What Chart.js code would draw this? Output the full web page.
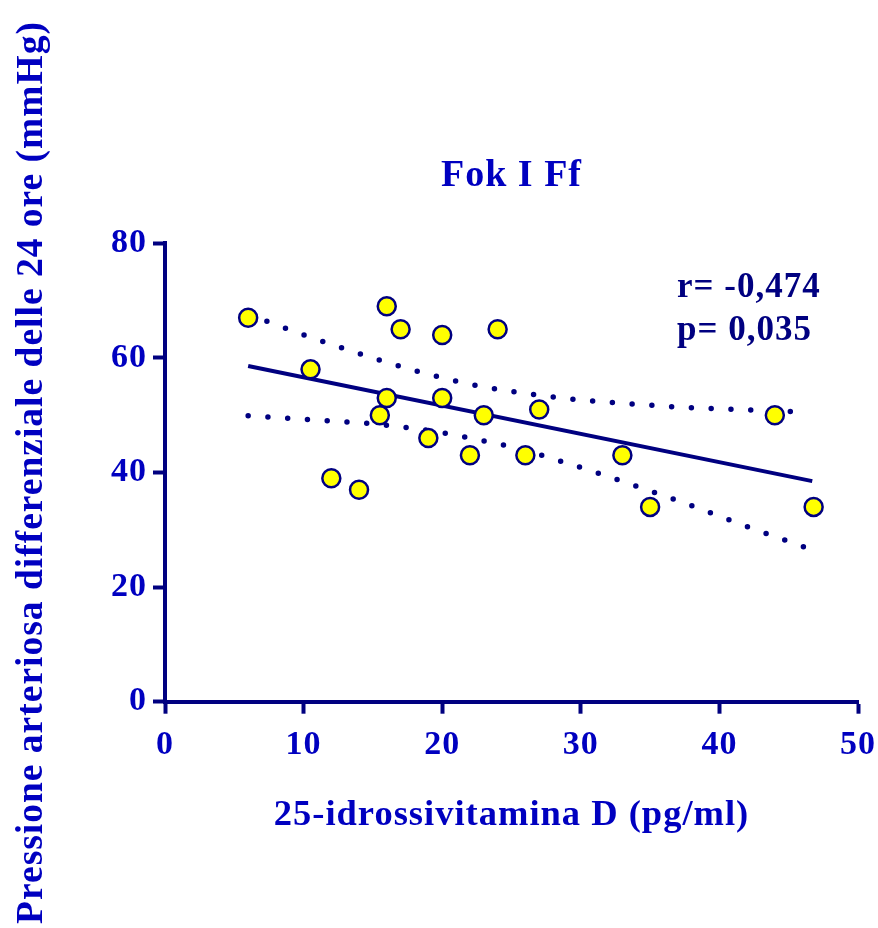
<!DOCTYPE html>
<html>
<head>
<meta charset="utf-8">
<script src="https://cdn.jsdelivr.net/npm/chart.js@4.4.1/dist/chart.umd.min.js"></script>
<style>
  body { margin: 0; background: #ffffff; }
</style>
</head>
<body>
<canvas id="grafico" width="878" height="928"></canvas>
<script>
// valori (Fok I Ff)
const vitD = [6, 16, 17, 20, 24, 10.5, 16, 20, 15.5, 23, 27, 19, 22, 26, 12, 14, 44, 35, 46.8, 33];
const pressione = [67, 69, 65, 64, 65, 58, 53, 53, 50, 50, 51, 46, 43, 43, 39, 37, 50, 34, 34, 43];

// retta di regressione
const rettaX = [6, 46.7];
const rettaY = [58.6, 38.5];

// bande di confidenza (tratteggiate)
const bandaSupX = [6, 7.45, 10.24, 13.07, 15.91, 18.77, 21.65, 24.61, 29.03, 33.5, 37.97, 42.4, 45.5];
const bandaSupY = [67.5, 66.3, 63.8, 61.5, 59.3, 57.3, 55.6, 54.3, 52.9, 52.0, 51.3, 50.9, 50.6];
const bandaInfX = [6, 10.5, 14.95, 19.37, 23.8, 25.26, 29.51, 33.77, 38.0, 42.18, 46.7];
const bandaInfY = [49.9, 49.2, 48.5, 47.2, 45.1, 44.3, 41.25, 37.8, 34.2, 30.4, 26.5];

const tickX = [0, 10, 20, 30, 40, 50];
const tickY = [0, 20, 40, 60, 80];

const titolo = "Fok I Ff";
const titoloX = "25-idrossivitamina D (pg/ml)";
const titoloY = "Pressione arteriosa differenziale delle 24 ore (mmHg)";
const statistiche = ["r= -0,474", "p= 0,035"];

const BLU = "#0000c0";
const NAVY = "#000080";
const FONT = "'Liberation Serif', 'Times New Roman', serif";

function punti(xs, ys) {
    return xs.map((x, i) => ({ x: x, y: ys[i] }));
}

const spaziatura = {
    id: "spaziatura",
    beforeDraw(chart) {
        chart.ctx.letterSpacing = "1px";
    }
};

const testoStat = {
    id: "testoStat",
    afterDraw(chart) {
        const ctx = chart.ctx;
        ctx.save();
        ctx.font = "bold 35px " + FONT;
        ctx.fillStyle = NAVY;
        ctx.textAlign = "left";
        ctx.textBaseline = "alphabetic";
        ctx.fillText(statistiche[0], 677, 297);
        ctx.fillText(statistiche[1], 677, 340);
        ctx.restore();
    }
};

const ctx = document.getElementById("grafico").getContext("2d");
new Chart(ctx, {
    type: "scatter",
    data: {
        datasets: [
            {
                label: "dati",
                data: punti(vitD, pressione),
                backgroundColor: "#ffff00",
                borderColor: NAVY,
                borderWidth: 2.5,
                pointRadius: 9,
                order: 0
            },
            {
                label: "regressione",
                data: punti(rettaX, rettaY),
                showLine: true,
                borderColor: NAVY,
                borderWidth: 4,
                pointRadius: 0,
                order: 1
            },
            {
                label: "banda sup",
                data: punti(bandaSupX, bandaSupY),
                showLine: true,
                cubicInterpolationMode: "monotone",
                borderColor: NAVY,
                borderWidth: 5.5,
                borderDash: [0, 19.8],
                borderCapStyle: "round",
                pointRadius: 0,
                order: 2
            },
            {
                label: "banda inf",
                data: punti(bandaInfX, bandaInfY),
                showLine: true,
                cubicInterpolationMode: "monotone",
                borderColor: NAVY,
                borderWidth: 5.5,
                borderDash: [0, 19.8],
                borderCapStyle: "round",
                pointRadius: 0,
                order: 2
            }
        ]
    },
    options: {
        responsive: false,
        animation: false,
        layout: { padding: { top: 0, right: 20, bottom: 0, left: 0 } },
        plugins: {
            legend: { display: false },
            tooltip: { enabled: false },
            title: {
                display: true,
                fullSize: false,
                text: titolo,
                color: BLU,
                font: { family: FONT, size: 38, weight: "bold", lineHeight: 1.2 },
                padding: { top: 153, bottom: 44.7 }
            }
        },
        scales: {
            x: {
                type: "linear",
                min: 0,
                max: 50,
                afterBuildTicks: (s) => { s.ticks = tickX.map(v => ({ value: v })); },
                afterFit: (s) => {
                    s.height = 928 - 701.7;
                    s.paddingLeft = 0;
                    s.paddingRight = 0;
                },
                border: { color: NAVY, width: 4 },
                grid: { drawOnChartArea: false, tickLength: 12, tickWidth: 4, tickColor: NAVY },
                ticks: { color: BLU, padding: 11, font: { family: FONT, size: 34, weight: "bold" } },
                title: {
                    display: true,
                    text: titoloX,
                    color: BLU,
                    font: { family: FONT, size: 36.5, weight: "bold", lineHeight: 1.2 },
                    padding: { top: 0, bottom: 91 }
                }
            },
            y: {
                type: "linear",
                min: 0,
                max: 80,
                afterBuildTicks: (s) => { s.ticks = tickY.map(v => ({ value: v })); },
                afterFit: (s) => { s.width = 165; },
                border: { color: NAVY, width: 4 },
                grid: { drawOnChartArea: false, tickLength: 12, tickWidth: 4, tickColor: NAVY },
                ticks: { color: BLU, padding: 6, font: { family: FONT, size: 34, weight: "bold" } },
                title: {
                    display: true,
                    text: titoloY,
                    color: BLU,
                    font: { family: FONT, size: 37.5, weight: "bold", lineHeight: 1.2 },
                    padding: { top: 10, bottom: 0 }
                }
            }
        }
    },
    plugins: [spaziatura, testoStat]
});
</script>
</body>
</html>
